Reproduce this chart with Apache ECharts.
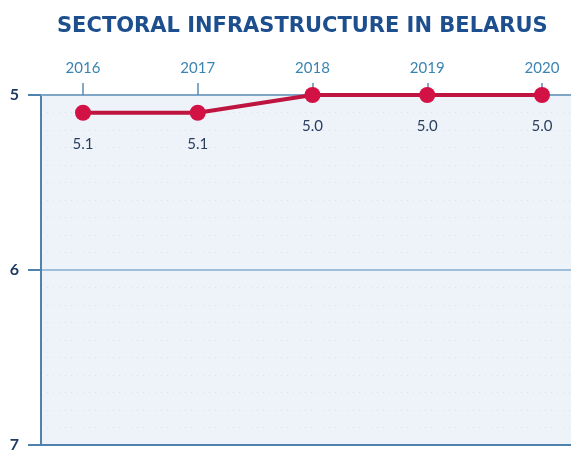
<!DOCTYPE html>
<html>
<head>
<meta charset="utf-8">
<script src="https://cdn.jsdelivr.net/npm/echarts@6/dist/echarts.min.js"></script>
<style>
  html, body { margin: 0; padding: 0; background: #fff; }
  #chart { width: 571px; height: 453px; }
</style>
</head>
<body>
<div id="chart"></div>
<script>
// data
const years = ['2016', '2017', '2018', '2019', '2020'];
const values = [5.1, 5.1, 5.0, 5.0, 5.0];
const yTicks = [5, 6, 7];

const chart = echarts.init(document.getElementById('chart'));

const option = {
  animation: false,
  title: {
    text: 'SECTORAL INFRASTRUCTURE IN BELARUS',
    left: 52,
    top: 11,
    textStyle: {
      fontFamily: 'DejaVu Sans',
      fontWeight: 'bold',
      fontSize: 21,
      color: '#1d4f8e'
    }
  },
  grid: [
    // grid 0: the line, categories centred on the year ticks
    { left: 83, right: 29, top: 95, bottom: 3 },
    // grid 1: plot background + y axis
    { left: 41, right: 0, top: 95, bottom: 3, show: true, backgroundColor: '#eef3fa', borderWidth: 0 }
  ],
  xAxis: [
    {
      gridIndex: 0,
      type: 'category',
      data: years,
      position: 'top',
      boundaryGap: false,
      axisLine: { show: false },
      axisTick: { show: true, length: 12, lineStyle: { color: '#5b8cb4', width: 1.5 } },
      axisLabel: { margin: 19, fontFamily: 'Lato', fontSize: 15, color: '#3b84b2' },
      splitLine: { show: false }
    },
    {
      gridIndex: 1,
      type: 'value',
      position: 'top',
      axisLine: { show: true, lineStyle: { color: '#7fa6c6', width: 2 } },
      axisTick: { show: false },
      axisLabel: { show: false },
      splitLine: { show: false }
    },
    {
      gridIndex: 1,
      type: 'value',
      position: 'bottom',
      axisLine: { show: true, lineStyle: { color: '#4f83ad', width: 2 } },
      axisTick: { show: false },
      axisLabel: { show: false },
      splitLine: { show: false }
    }
  ],
  yAxis: [
    {
      gridIndex: 0,
      type: 'value',
      inverse: true,
      min: yTicks[0],
      max: yTicks[yTicks.length - 1],
      show: false
    },
    {
      gridIndex: 1,
      type: 'value',
      inverse: true,
      min: yTicks[0],
      max: yTicks[yTicks.length - 1],
      interval: 1,
      axisLine: { show: true, lineStyle: { color: '#4f83ad', width: 2 } },
      axisTick: { show: true, length: 13, lineStyle: { color: '#4f83ad', width: 2 } },
      axisLabel: { margin: 22, fontFamily: 'Lato', fontWeight: 'bold', fontSize: 16, color: '#1f3b63' },
      splitLine: { show: true, lineStyle: { color: '#9dbfdc', width: 2 } },
      minorTick: { show: false, splitNumber: 10 },
      minorSplitLine: { show: true, lineStyle: { color: 'rgba(170,188,212,0.3)', type: [1, 5], width: 1 } }
    }
  ],
  series: [
    {
      type: 'line',
      xAxisIndex: 0,
      yAxisIndex: 0,
      data: values,
      symbol: 'circle',
      symbolSize: 16,
      lineStyle: { color: '#bd1440', width: 4 },
      itemStyle: { color: '#d21245' },
      label: {
        show: true,
        position: 'bottom',
        distance: 16,
        formatter: p => p.value.toFixed(1),
        fontFamily: 'Lato',
        fontSize: 15,
        color: '#2a3f5f'
      },
      z: 5
    }
  ]
};

chart.setOption(option);
window.addEventListener('resize', () => chart.resize());
</script>
</body>
</html>
